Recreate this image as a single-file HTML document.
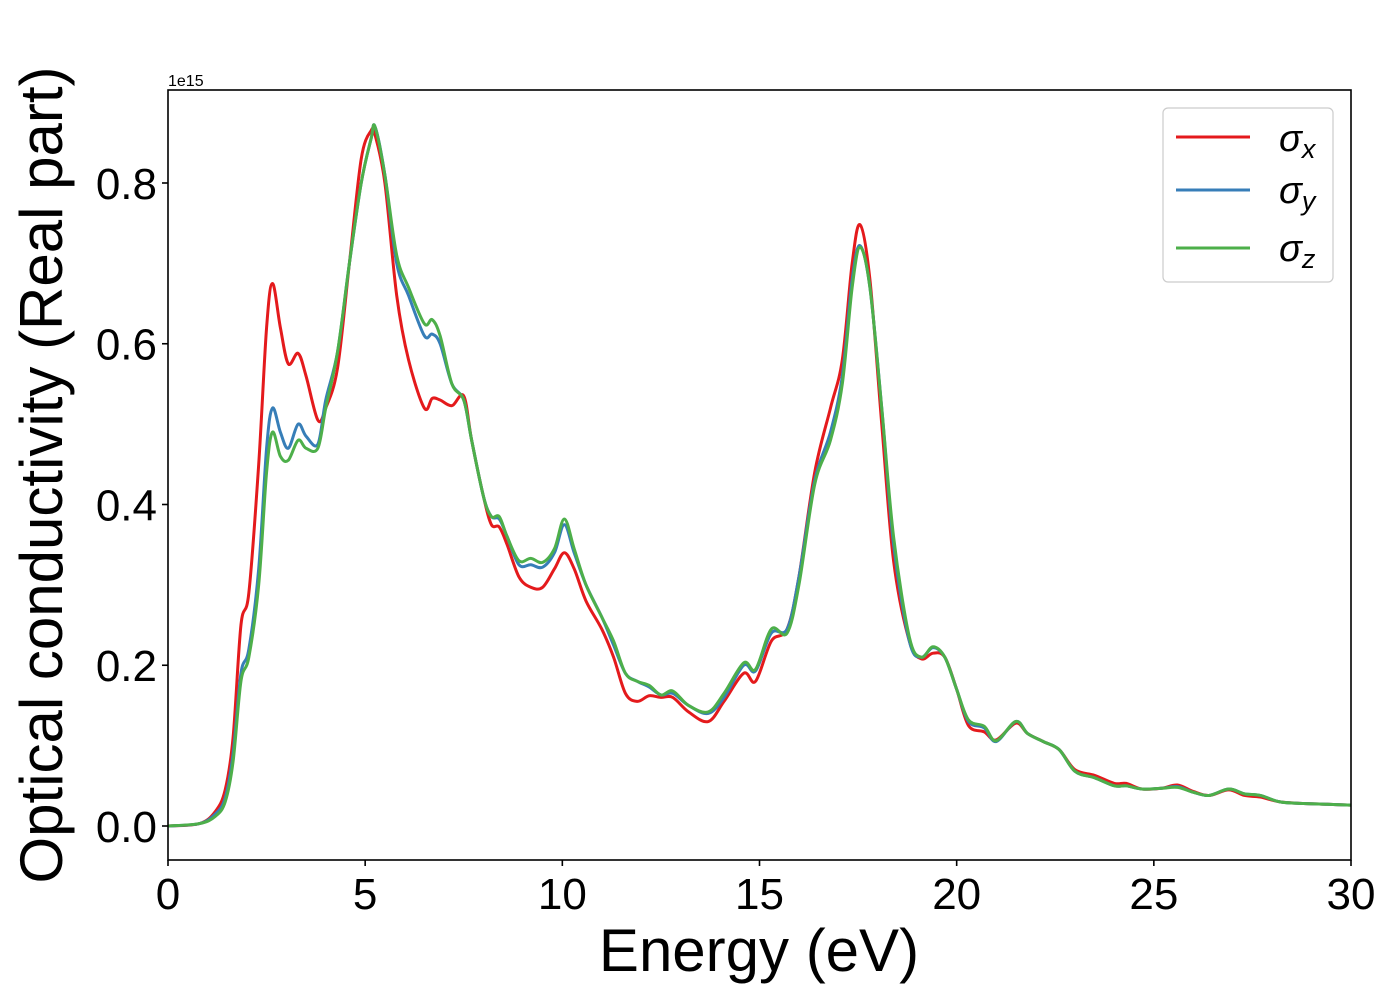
<!DOCTYPE html>
<html><head><meta charset="utf-8"><style>
html,body{margin:0;padding:0;background:#fff;}
svg{display:block;font-family:"Liberation Sans","DejaVu Sans",sans-serif;}
</style></head><body>
<svg id="chart" width="1400" height="1000" viewBox="0 0 1400 1000" xmlns="http://www.w3.org/2000/svg">
<rect x="0" y="0" width="1400" height="1000" fill="#fff"/>
<g id="series"></g>
<rect x="168" y="90" width="1183" height="770" fill="none" stroke="#000" stroke-width="1.6"/>
<g id="xticks"></g>
<g id="yticks"></g>
<text x="168" y="86" font-size="16">1e15</text>
<text x="759" y="971" font-size="60" text-anchor="middle">Energy (eV)</text>
<text transform="translate(62,475) rotate(-90)" font-size="60" text-anchor="middle">Optical conductivity (Real part)</text>
<g>
<rect x="1163" y="108" width="170" height="174" rx="5" fill="#fff" fill-opacity="0.8" stroke="#ccc" stroke-width="1.2"/>
<g>
<line x1="1176" y1="137" x2="1250" y2="137" stroke="#e41a1c" stroke-width="3"/>
<text x="1279" y="151" font-size="38"><tspan font-style="italic">σ</tspan><tspan font-style="italic" font-size="27" dy="7">x</tspan></text>
</g>
<g>
<line x1="1176" y1="190" x2="1250" y2="190" stroke="#377eb8" stroke-width="3"/>
<text x="1279" y="203" font-size="38"><tspan font-style="italic">σ</tspan><tspan font-style="italic" font-size="27" dy="7">y</tspan></text>
</g>
<g>
<line x1="1176" y1="248" x2="1250" y2="248" stroke="#4daf4a" stroke-width="3"/>
<text x="1279" y="261" font-size="38"><tspan font-style="italic">σ</tspan><tspan font-style="italic" font-size="27" dy="7">z</tspan></text>
</g>
</g>
</svg>
<script>
const energy = [0,0.8,1.2,1.45,1.65,1.85,2.05,2.3,2.5,2.65,2.85,3.05,3.3,3.5,3.8,4.0,4.3,4.6,4.9,5.15,5.25,5.5,5.8,6.1,6.5,6.7,6.9,7.2,7.5,7.7,8.0,8.2,8.4,8.6,8.9,9.2,9.5,9.8,10.05,10.3,10.6,11.0,11.3,11.6,11.9,12.2,12.5,12.8,13.2,13.7,14.1,14.6,14.9,15.3,15.7,16.0,16.4,16.8,17.1,17.35,17.55,17.8,18.1,18.4,18.8,19.1,19.4,19.7,20.0,20.3,20.7,21.0,21.5,21.8,22.2,22.6,23.0,23.5,24.0,24.3,24.7,25.2,25.6,26.0,26.4,26.9,27.3,27.7,28.2,28.8,29.4,30];
const sigmaX = [0,0.003,0.018,0.045,0.11,0.25,0.29,0.45,0.62,0.675,0.62,0.575,0.588,0.56,0.505,0.52,0.57,0.70,0.83,0.865,0.86,0.80,0.66,0.58,0.52,0.532,0.53,0.523,0.535,0.48,0.41,0.375,0.372,0.35,0.31,0.297,0.297,0.32,0.34,0.32,0.28,0.245,0.21,0.165,0.155,0.162,0.16,0.16,0.142,0.13,0.155,0.19,0.18,0.23,0.245,0.31,0.44,0.52,0.58,0.70,0.748,0.68,0.50,0.33,0.23,0.208,0.215,0.21,0.17,0.125,0.117,0.107,0.128,0.115,0.105,0.095,0.07,0.063,0.053,0.053,0.046,0.047,0.051,0.043,0.038,0.045,0.038,0.036,0.03,0.028,0.027,0.026];
const sigmaY = [0,0.003,0.015,0.035,0.09,0.19,0.22,0.32,0.47,0.52,0.49,0.47,0.50,0.485,0.475,0.53,0.59,0.70,0.80,0.855,0.87,0.81,0.70,0.66,0.61,0.612,0.60,0.55,0.53,0.48,0.41,0.385,0.382,0.36,0.325,0.325,0.322,0.34,0.375,0.34,0.30,0.26,0.225,0.19,0.18,0.173,0.163,0.165,0.15,0.14,0.16,0.20,0.193,0.24,0.245,0.31,0.43,0.49,0.56,0.68,0.722,0.67,0.52,0.35,0.23,0.21,0.222,0.21,0.17,0.13,0.122,0.105,0.13,0.115,0.105,0.095,0.068,0.06,0.05,0.05,0.046,0.047,0.049,0.042,0.038,0.046,0.04,0.038,0.03,0.028,0.027,0.026];
const sigmaZ = [0,0.003,0.012,0.03,0.08,0.18,0.21,0.30,0.44,0.49,0.46,0.455,0.48,0.47,0.47,0.52,0.59,0.70,0.80,0.855,0.87,0.81,0.71,0.67,0.625,0.63,0.61,0.55,0.53,0.48,0.41,0.385,0.385,0.36,0.33,0.333,0.328,0.345,0.382,0.345,0.30,0.26,0.23,0.19,0.18,0.175,0.163,0.168,0.15,0.142,0.165,0.203,0.195,0.245,0.24,0.30,0.425,0.48,0.55,0.67,0.72,0.67,0.52,0.36,0.235,0.21,0.223,0.21,0.17,0.132,0.124,0.106,0.13,0.115,0.105,0.095,0.068,0.06,0.05,0.05,0.046,0.047,0.048,0.042,0.038,0.046,0.04,0.038,0.03,0.028,0.027,0.026];
const xTickValues = [0,5,10,15,20,25,30];
const yTickValues = [0.0,0.2,0.4,0.6,0.8];

const NS = "http://www.w3.org/2000/svg";
const xMin = 0, xMax = 30, yMin = -0.0423, yMax = 0.9157;
const L = 168, R = 1351, T = 90, B = 860;
function xs(v){ return L + (v - xMin) / (xMax - xMin) * (R - L); }
function ys(v){ return B - (v - yMin) / (yMax - yMin) * (B - T); }

function smoothPath(xv, yv){
  const p = xv.map((x,i)=>[xs(x), ys(yv[i])]);
  let d = "M" + p[0][0].toFixed(2) + "," + p[0][1].toFixed(2);
  for (let i=0;i<p.length-1;i++){
    const p0 = p[Math.max(0,i-1)], p1 = p[i], p2 = p[i+1], p3 = p[Math.min(p.length-1,i+2)];
    const c1x = p1[0] + (p2[0]-p0[0])/6, c1y = p1[1] + (p2[1]-p0[1])/6;
    const c2x = p2[0] - (p3[0]-p1[0])/6, c2y = p2[1] - (p3[1]-p1[1])/6;
    d += " C" + c1x.toFixed(2)+","+c1y.toFixed(2)+" "+c2x.toFixed(2)+","+c2y.toFixed(2)+" "+p2[0].toFixed(2)+","+p2[1].toFixed(2);
  }
  return d;
}

const sg = document.getElementById("series");
const cp = document.createElementNS(NS,"clipPath");
cp.setAttribute("id","clip");
const cr = document.createElementNS(NS,"rect");
cr.setAttribute("x",L); cr.setAttribute("y",T); cr.setAttribute("width",R-L); cr.setAttribute("height",B-T);
cp.appendChild(cr); sg.appendChild(cp);
sg.setAttribute("clip-path","url(#clip)");
const seriesList = [["sigma-x", sigmaX, "#e41a1c"],["sigma-y", sigmaY, "#377eb8"],["sigma-z", sigmaZ, "#4daf4a"]];
seriesList.forEach(s=>{
  const path = document.createElementNS(NS,"path");
  path.setAttribute("d", smoothPath(energy, s[1]));
  path.setAttribute("fill","none");
  path.setAttribute("stroke", s[2]);
  path.setAttribute("stroke-width","3");
  path.setAttribute("stroke-linejoin","round");
  
  
  sg.appendChild(path);
});

const xg = document.getElementById("xticks");
xTickValues.forEach(v=>{
  const t = document.createElementNS(NS,"line");
  t.setAttribute("x1",xs(v)); t.setAttribute("x2",xs(v)); t.setAttribute("y1",B); t.setAttribute("y2",B+6);
  t.setAttribute("stroke","#000"); t.setAttribute("stroke-width","1.6");
  
  
  xg.appendChild(t);
  const tx = document.createElementNS(NS,"text");
  tx.setAttribute("x",xs(v)); tx.setAttribute("y",B+49);
  tx.setAttribute("font-size","44"); tx.setAttribute("text-anchor","middle");
  tx.textContent = String(v);
  
  
  xg.appendChild(tx);
});
const yg = document.getElementById("yticks");
yTickValues.forEach(v=>{
  const t = document.createElementNS(NS,"line");
  t.setAttribute("x1",L-6); t.setAttribute("x2",L); t.setAttribute("y1",ys(v)); t.setAttribute("y2",ys(v));
  t.setAttribute("stroke","#000"); t.setAttribute("stroke-width","1.6");
  
  
  yg.appendChild(t);
  const tx = document.createElementNS(NS,"text");
  tx.setAttribute("x",L-11); tx.setAttribute("y",ys(v)+16);
  tx.setAttribute("font-size","44"); tx.setAttribute("text-anchor","end");
  tx.textContent = v.toFixed(1);
  
  
  yg.appendChild(tx);
});
</script>
</body></html>
